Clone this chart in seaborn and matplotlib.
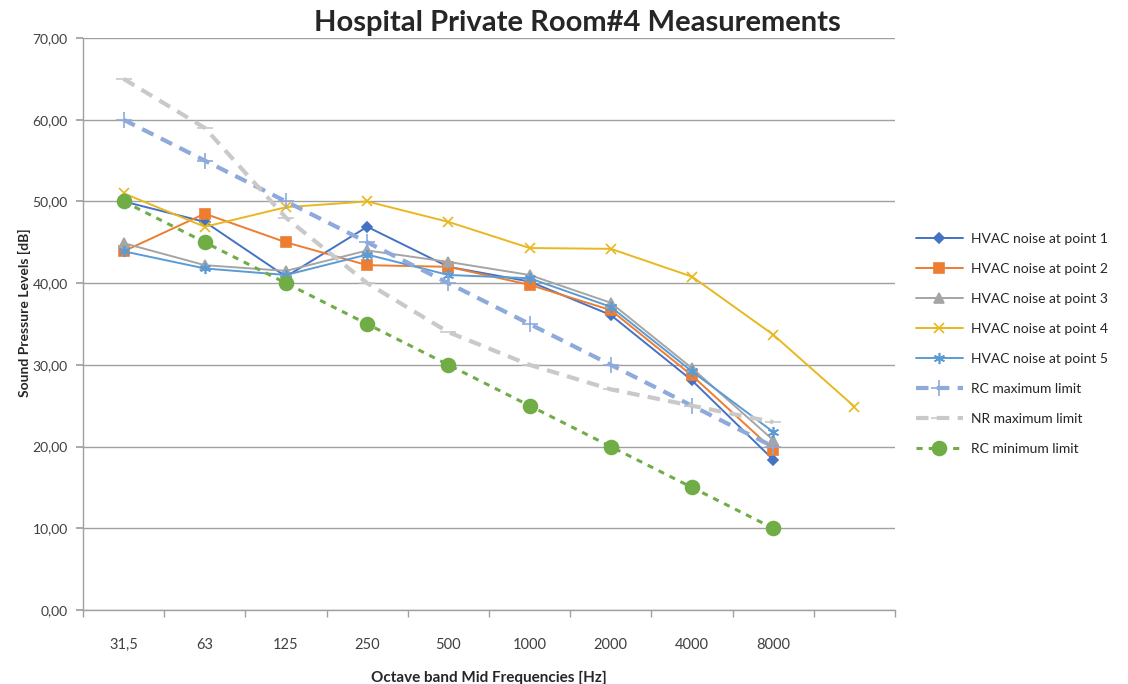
import numpy as np
import pandas as pd
import matplotlib
matplotlib.use("Agg")
import matplotlib.pyplot as plt
import seaborn as sns

categories = ["31,5", "63", "125", "250", "500", "1000", "2000", "4000", "8000", ""]
point1 = [50.0, 47.5, 40.8, 46.9, 42.0, 40.2, 36.1, 28.1, 18.4]
point2 = [43.9, 48.5, 45.0, 42.2, 42.0, 39.8, 36.7, 28.7, 19.6]
point3 = [44.9, 42.2, 41.5, 44.0, 42.6, 41.0, 37.6, 29.6, 20.8]
point4 = [51.0, 46.9, 49.3, 50.0, 47.5, 44.3, 44.2, 40.8, 33.7, 24.9]
point5 = [43.9, 41.8, 41.0, 43.5, 41.0, 40.6, 37.1, 29.2, 21.8]
rc_max = [60, 55, 50, 45, 40, 35, 30, 25, 20]
nr_max = [65.0, 59.0, 48.0, 40.0, 34.0, 30.0, 27.0, 25.0, 23.0]
rc_min = [50, 45, 40, 35, 30, 25, 20, 15, 10]

series = [
    ("HVAC noise at point 1", point1, dict(color="#4472C4", marker="D", markersize=5, lw=1.4, ls="-")),
    ("HVAC noise at point 2", point2, dict(color="#ED7D31", marker="s", markersize=7, lw=1.4, ls="-")),
    ("HVAC noise at point 3", point3, dict(color="#A5A5A5", marker="^", markersize=7, lw=1.4, ls="-")),
    ("HVAC noise at point 4", point4, dict(color="#E8B820", marker="x", markersize=7, lw=1.4, ls="-")),
    ("HVAC noise at point 5", point5, dict(color="#5B9BD5", marker=(6, 2, 0), markersize=8, lw=1.4, ls="-")),
    ("RC maximum limit", rc_max, dict(color="#8EA9DB", marker="+", markersize=11, lw=3.0, ls=(0, (3, 2)))),
    ("NR maximum limit", nr_max, dict(color="#C9C9C9", marker="_", markersize=11, lw=3.0, ls=(0, (3, 2)))),
    ("RC minimum limit", rc_min, dict(color="#70AD47", marker="o", markersize=10, lw=2.2, ls=(0, (2, 2)))),
]

sns.set_theme(style="white")
plt.rcParams["font.family"] = ["Lato", "DejaVu Sans"]

fig = plt.figure(figsize=(11.28, 6.84), dpi=100)
ax = fig.add_axes([0.0736, 0.1082, 0.7198, 0.8362])

for name, vals, st in series:
    df = pd.DataFrame({"x": np.arange(len(vals)), "y": vals})
    sns.lineplot(data=df, x="x", y="y", ax=ax, label=name, color=st["color"],
                 marker=st["marker"], markersize=st["markersize"], linewidth=st["lw"],
                 linestyle=st["ls"], markeredgecolor=st["color"], markeredgewidth=1.2,
                 legend=True)

ax.set_xlim(-0.5, len(categories) - 0.5)
ax.set_ylim(0, 70)
ax.set_yticks(np.arange(0, 71, 10))
ax.set_yticklabels([f"{v:.2f}".replace(".", ",") for v in np.arange(0, 71, 10)], fontsize=10, color="#404040")
ax.set_xticks(np.arange(len(categories)))
ax.set_xticklabels(categories, fontsize=10.5, color="#404040")
ax.set_xticks(np.arange(len(categories) + 1) - 0.5, minor=True)
ax.tick_params(axis="x", which="major", length=0, pad=20)
ax.tick_params(axis="x", which="minor", length=5, color="#A0A0A0", direction="out", bottom=True)
ax.tick_params(axis="y", length=5, color="#A0A0A0", direction="out", left=True, pad=6)
ax.grid(axis="y", color="#A0A0A0", lw=1.0)
ax.set_axisbelow(True)
for s in ["top", "right"]:
    ax.spines[s].set_visible(False)
for s in ["left", "bottom"]:
    ax.spines[s].set_color("#A0A0A0")
    ax.spines[s].set_linewidth(1.0)

ax.set_xlabel("Octave band Mid Frequencies [Hz]", fontsize=11, fontweight="bold", labelpad=14, color="#262626")
ax.set_ylabel("")
fig.text(24 / 1128, 1 - 313 / 684, "Sound Pressure Levels [dB]", rotation=90, ha="center", va="center",
         fontsize=10, fontweight="bold", color="#262626")
fig.suptitle("Hospital Private Room#4 Measurements", x=0.512, y=0.985, fontsize=21, fontweight="bold", color="#262626")

leg = ax.legend(loc="center left", bbox_to_anchor=(1.01, 0.465), frameon=False, fontsize=10,
                handlelength=3.4, handletextpad=0.6, labelspacing=1.3, borderaxespad=0.5)

fig.savefig("out.png", dpi=100)
